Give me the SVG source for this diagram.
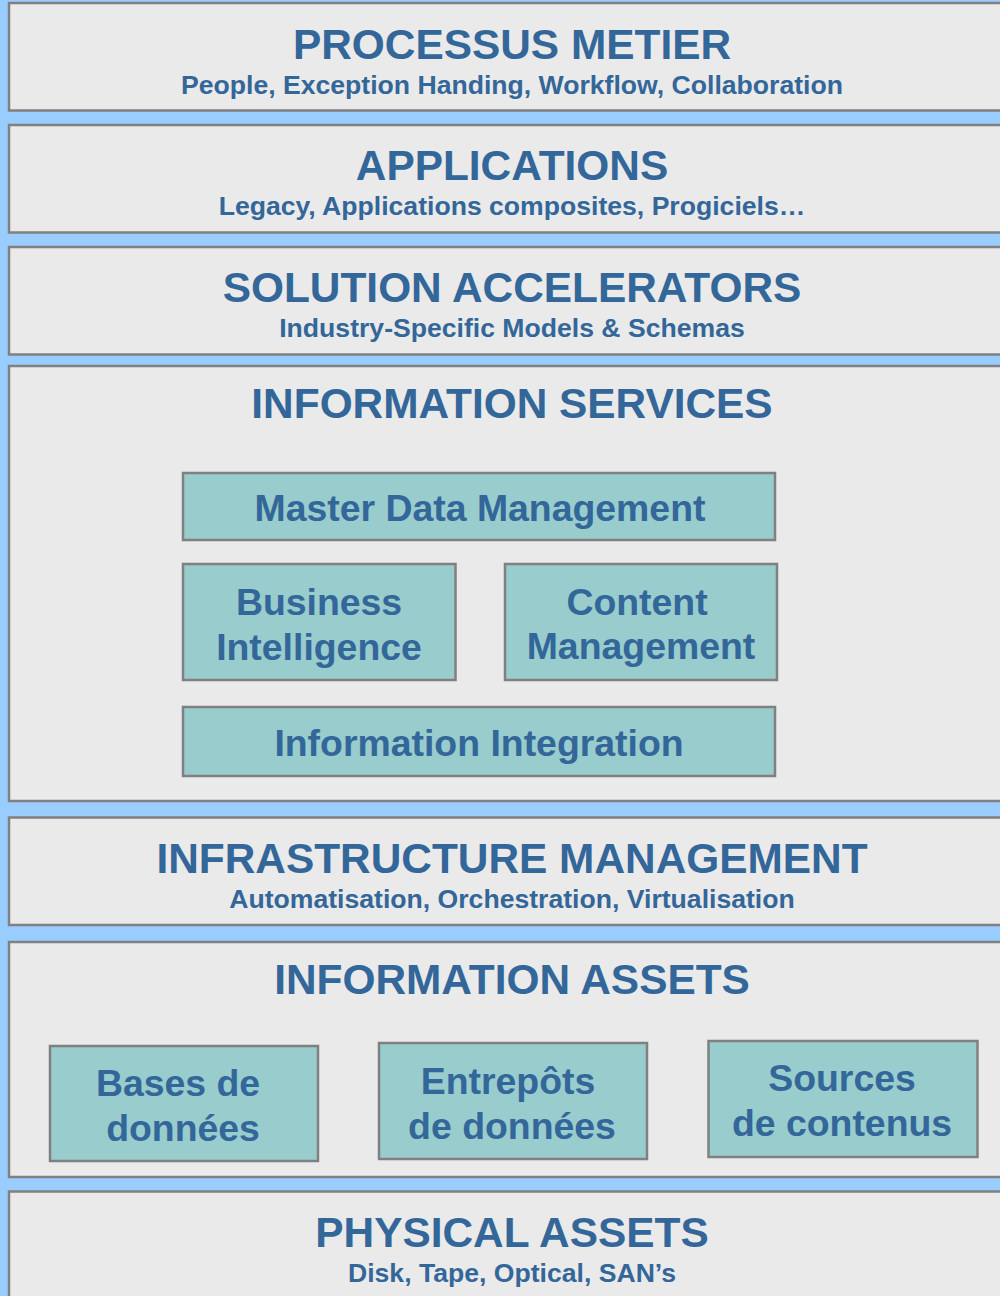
<svg xmlns="http://www.w3.org/2000/svg" width="1000" height="1296" viewBox="0 0 1000 1296">
<style>
.panel{fill:#EAEAEA;stroke:#808080;stroke-width:2.5}
.box{fill:#99CCCC;stroke:#808080;stroke-width:2.5}
text{font-family:"Liberation Sans",Arial,sans-serif;font-weight:bold;fill:#336699;text-anchor:middle}
.t{font-size:42.4px}
.s{font-size:26.6px}
.b{font-size:37.4px}
</style>
<rect x="0" y="0" width="1000" height="1296" fill="#99CCFF"/>
<g id="processus-metier">
<rect class="panel" x="9" y="3" width="1010" height="107.5"/>
<text class="t" x="512" y="59">PROCESSUS METIER</text>
<text class="s" x="512" y="94">People, Exception Handing, Workflow, Collaboration</text>
</g>
<g id="applications">
<rect class="panel" x="9" y="125" width="1010" height="107.5"/>
<text class="t" x="512" y="180">APPLICATIONS</text>
<text class="s" x="512" y="215">Legacy, Applications composites, Progiciels…</text>
</g>
<g id="solution-accelerators">
<rect class="panel" x="9" y="247" width="1010" height="107.5"/>
<text class="t" x="512" y="302">SOLUTION ACCELERATORS</text>
<text class="s" x="512" y="337">Industry-Specific Models &amp; Schemas</text>
</g>
<g id="information-services">
<rect class="panel" x="9" y="366" width="1010" height="435"/>
<text class="t" x="512" y="418">INFORMATION SERVICES</text>
</g>
<g id="master-data-management">
<rect class="box" x="183" y="473" width="592" height="67"/>
<text class="b" x="480" y="521">Master Data Management</text>
</g>
<g id="business-intelligence">
<rect class="box" x="183" y="564" width="272.5" height="116"/>
<text class="b" x="319" y="615">Business</text>
<text class="b" x="319" y="660">Intelligence</text>
</g>
<g id="content-management">
<rect class="box" x="505" y="564" width="272" height="116"/>
<text class="b" x="637" y="615">Content</text>
<text class="b" x="641" y="659">Management</text>
</g>
<g id="information-integration">
<rect class="box" x="183" y="707" width="592" height="69"/>
<text class="b" x="479" y="756">Information Integration</text>
</g>
<g id="infrastructure-management">
<rect class="panel" x="9" y="817.5" width="1010" height="107.5"/>
<text class="t" x="512" y="873">INFRASTRUCTURE MANAGEMENT</text>
<text class="s" x="512" y="908">Automatisation, Orchestration, Virtualisation</text>
</g>
<g id="information-assets">
<rect class="panel" x="9" y="942" width="1010" height="235"/>
<text class="t" x="512" y="994">INFORMATION ASSETS</text>
</g>
<g id="bases-de-donnees">
<rect class="box" x="50" y="1046" width="268" height="115"/>
<text class="b" x="178" y="1096">Bases de</text>
<text class="b" x="183" y="1141">données</text>
</g>
<g id="entrepots-de-donnees">
<rect class="box" x="379" y="1043" width="268" height="116"/>
<text class="b" x="508" y="1094">Entrepôts</text>
<text class="b" x="512" y="1139">de données</text>
</g>
<g id="sources-de-contenus">
<rect class="box" x="708.5" y="1041" width="269" height="116"/>
<text class="b" x="842" y="1091">Sources</text>
<text class="b" x="842" y="1136">de contenus</text>
</g>
<g id="physical-assets">
<rect class="panel" x="9" y="1191.5" width="1010" height="120"/>
<text class="t" x="512" y="1247">PHYSICAL ASSETS</text>
<text class="s" x="512" y="1282">Disk, Tape, Optical, SAN’s</text>
</g>
<g id="connectors"></g>
</svg>
